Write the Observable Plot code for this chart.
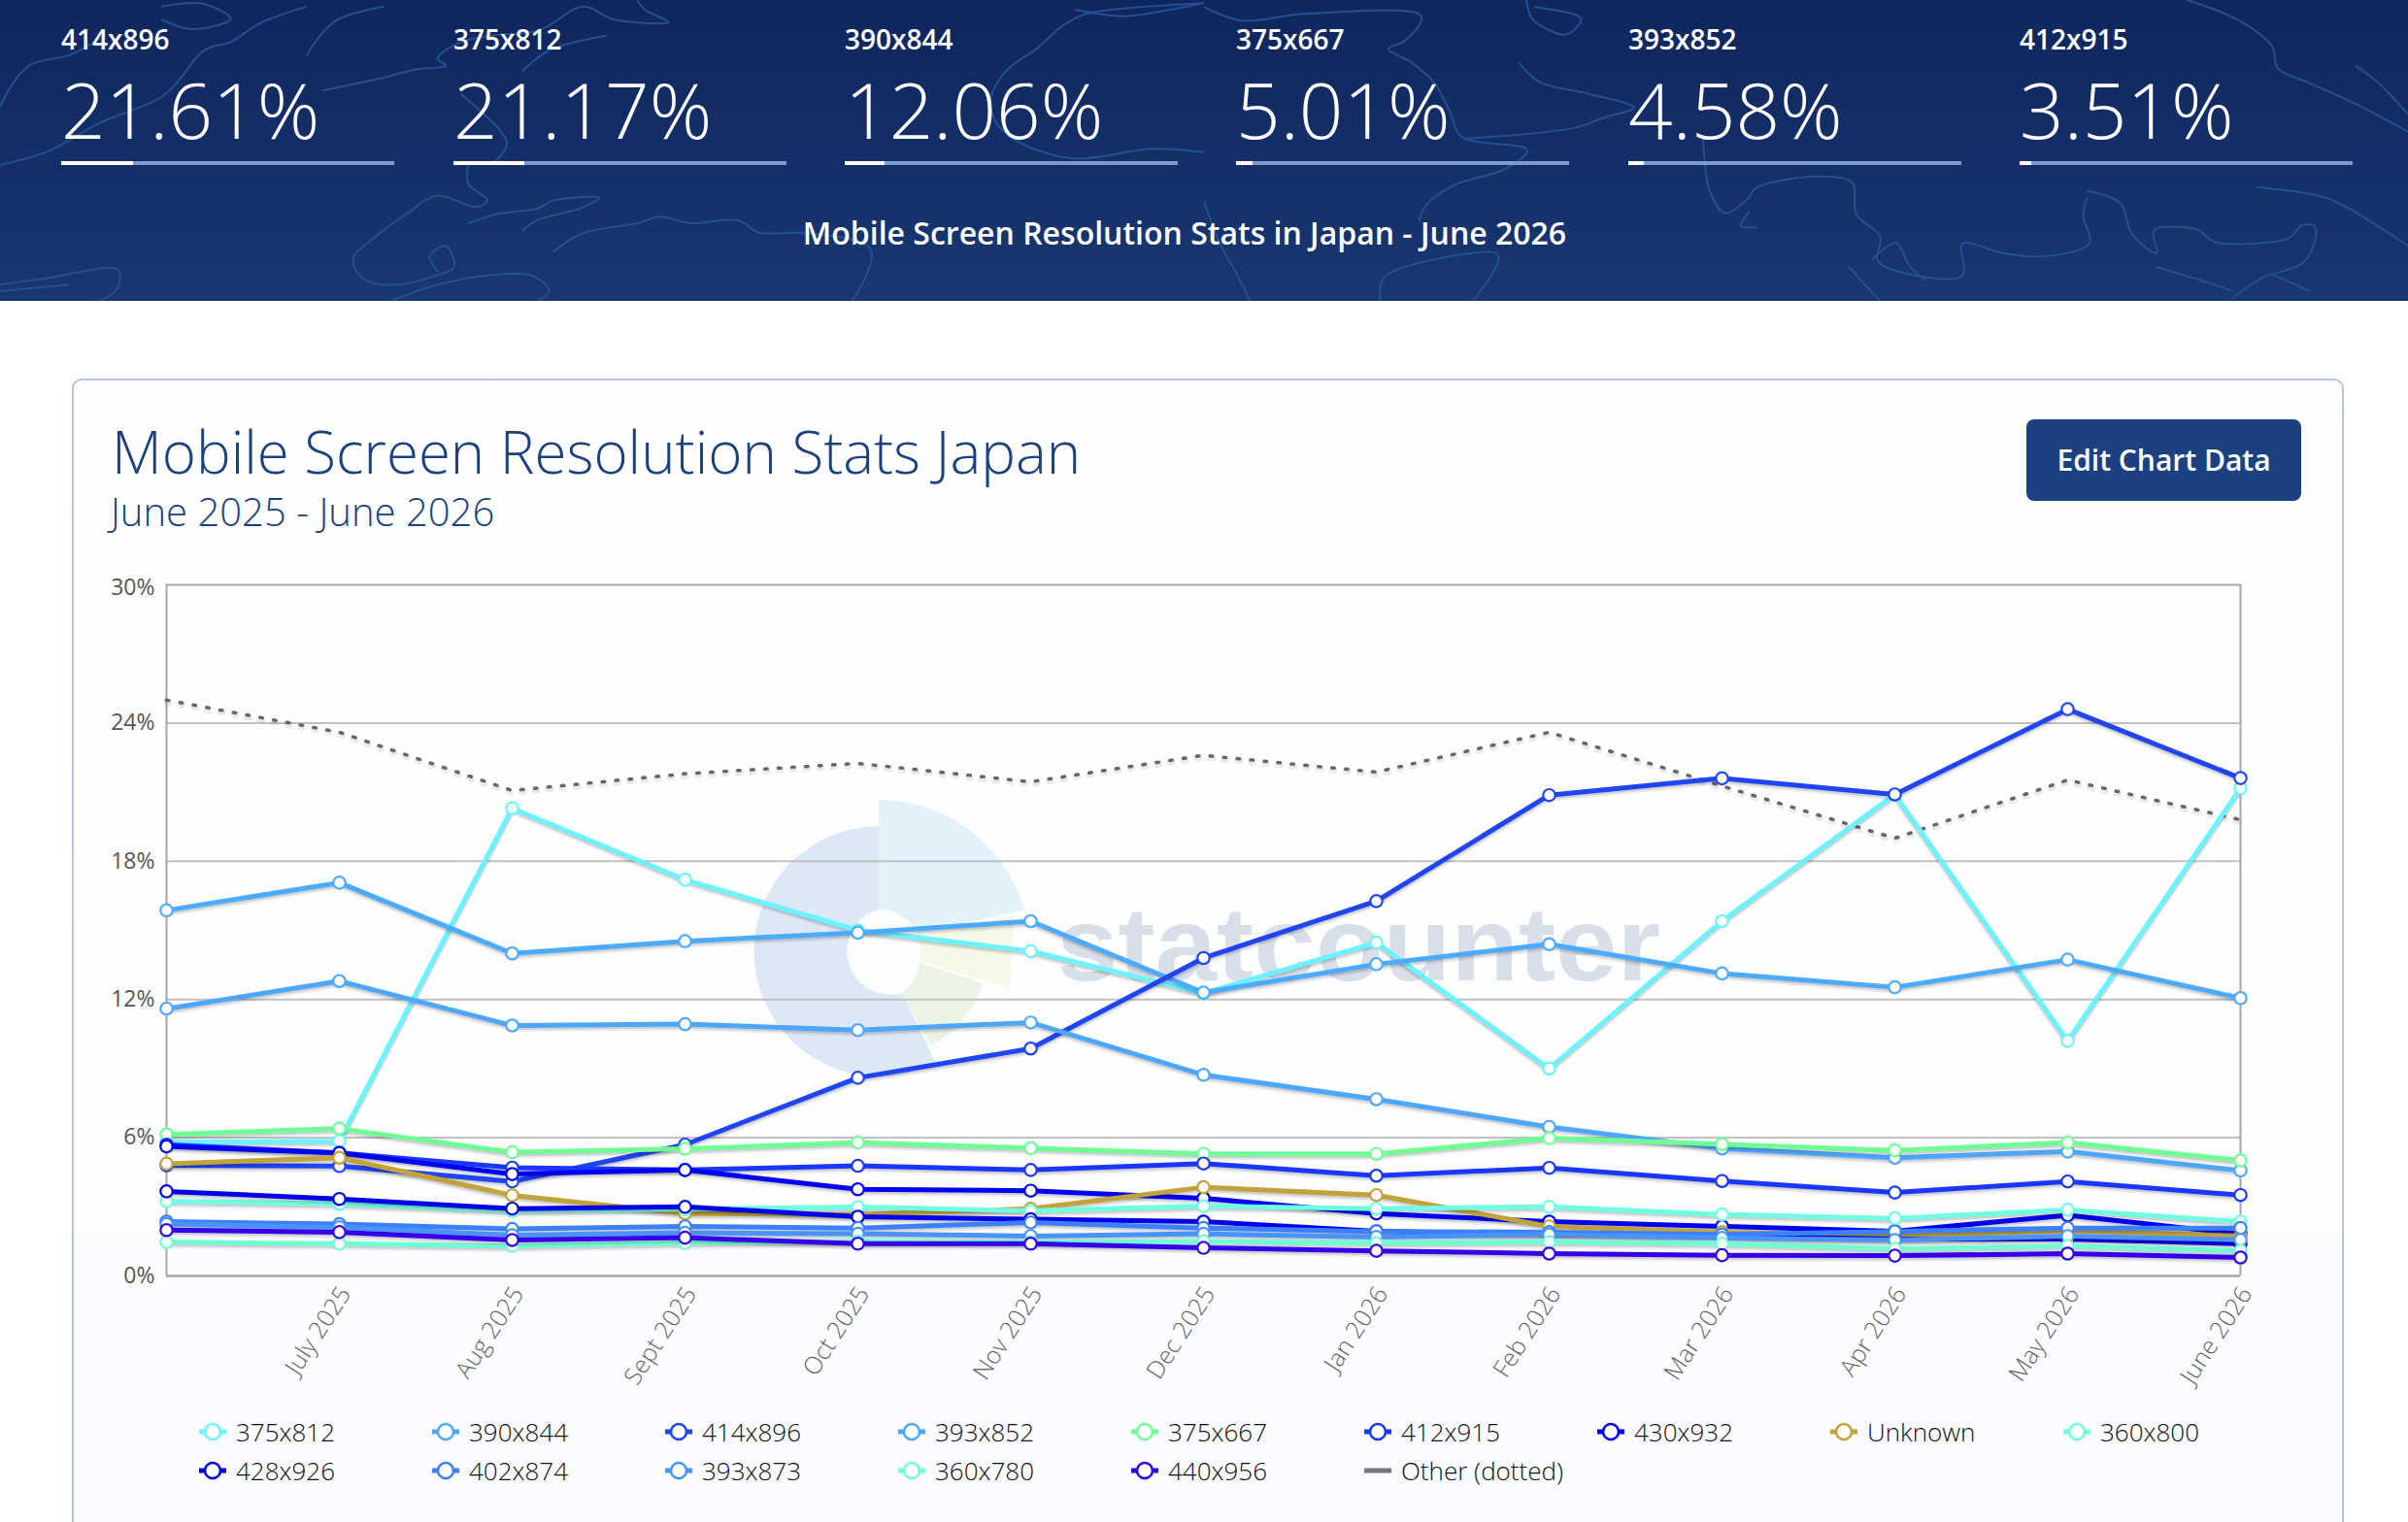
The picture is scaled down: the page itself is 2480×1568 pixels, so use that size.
<!DOCTYPE html>
<html><head><meta charset="utf-8">
<script src="https://cdn.jsdelivr.net/npm/d3@7"></script>
<script src="https://cdn.jsdelivr.net/npm/@observablehq/plot@0.6"></script>
<style>
html,body{margin:0;padding:0;background:#fff;font-family:"Open Sans",sans-serif;}
#page{position:relative;width:2480px;height:1568px;overflow:hidden;}
#hdr{position:absolute;left:0;top:0;width:2480px;height:310px;background:linear-gradient(#0f265e,#193771);overflow:hidden;}
#hdr svg{position:absolute;left:0;top:0;}
.st{position:absolute;width:343px;color:#fff;}
.st .n{position:absolute;left:0;top:26px;font-size:28px;line-height:28px;font-weight:600;white-space:nowrap;}
.st .p{position:absolute;left:0;top:72px;font-size:80px;font-weight:300;line-height:80px;white-space:nowrap;}
.st .b{position:absolute;left:0;top:166px;width:100%;height:4px;background:#7a9ad0;}
.st .w{position:absolute;left:0;top:166px;height:4px;background:#fff;}
#ht{position:absolute;left:0;width:2440px;top:218px;text-align:center;color:#fff;font-size:32px;font-weight:600;}
#card{position:absolute;left:74px;top:390px;width:2336px;height:1300px;border:2px solid #b3c6de;border-radius:10px;background:linear-gradient(#fff,#fafcff);box-sizing:content-box;}
#t1{position:absolute;left:115px;top:435px;font-size:60px;line-height:60px;font-weight:300;color:#1c4180;white-space:nowrap;}
#t2{position:absolute;left:114px;top:507px;font-size:40px;line-height:40px;font-weight:300;color:#1c4180;white-space:nowrap;}
#btn{position:absolute;left:2087px;top:432px;width:283px;height:84px;background:#1c4180;border-radius:8px;color:#fff;font-size:30px;font-weight:600;line-height:84px;text-align:center;}
#wm{position:absolute;left:0;top:0;}
#chart{position:absolute;left:0;top:559px;}
.lg{position:absolute;display:flex;align-items:center;font-size:26px;font-weight:300;color:#111;white-space:nowrap;}
.lg svg{margin-right:10px;}
</style></head><body>
<div id="page">
<div id="hdr">
<svg id="map" width="2480" height="310" fill="none" stroke="#25508f" stroke-width="2" stroke-linejoin="round">
<g transform="scale(0.7908,0.3333)">
<path vector-effect="non-scaling-stroke" d="M0,510L60,470L130,380L210,300L270,150L300,130L340,70L400,20M420,280L500,240L540,215L580,205L570,180L600,130L640,110L700,95L760,20L800,60L870,70L840,30L830,0M680,220L720,150L790,110M640,510L660,450L650,400L600,290M610,510L610,570L635,620L620,640L570,605L530,660L490,730L460,800L480,870L520,880L570,850L590,830L580,760L560,790L570,840M510,930L570,880L640,850L690,850L715,900L700,930M720,780L760,720L830,690L860,670L900,690L960,680L990,720L1050,720L1130,760L1110,930M610,690L650,660L700,645L720,620L780,610L760,640L700,680L680,715M0,880L60,860L150,830L150,900L130,930M0,900L90,880M1568,10L1420,40L1390,70L1350,150L1310,220L1290,330L1320,430L1400,490L1500,460L1568,470M1400,30L1460,50L1500,40L1568,10M210,20L260,10L300,60L250,90L210,60M0,330L40,200L90,170L130,120M400,170L440,60L500,20"/>
</g>
<g transform="translate(1240,0) scale(0.7908,0.3571)">
<path vector-effect="non-scaling-stroke" d="M0,20L50,60L130,40L280,40L260,120L240,140L270,180L300,240L320,320L340,400L420,430L390,490L330,530L290,590L280,640M420,0L430,60L470,100L490,50L430,20M410,180L440,240L500,270L560,310L520,340L480,370L340,400M0,580L20,700L40,780L60,868M650,400L660,560L680,615L710,570L720,540L790,510L840,520L850,620L880,680L880,760L940,800L985,800L990,700L1040,730L1090,740L1150,710L1145,620L1150,570M1150,550L1190,580L1210,680L1240,730L1240,660L1290,660L1320,700L1410,690L1430,650L1445,650L1430,760L1380,800L1340,860M1370,540L1460,570L1520,640L1568,710M1280,0L1340,50L1390,130L1400,200L1440,240L1500,300L1568,380M1500,190L1530,240L1568,330M840,770L880,868M870,750L900,700L920,770L940,810M1240,770L1300,810L1340,840M1390,790L1440,840M230,868L240,790L380,730L350,868M710,610L700,655L720,655"/>
</g>
</svg>
<div id="ht">Mobile Screen Resolution Stats in Japan - June 2026</div>
</div>
<div id="card"></div>
<div id="t1">Mobile Screen Resolution Stats Japan</div>
<div id="t2">June 2025 - June 2026</div>
<div id="btn">Edit Chart Data</div>
<svg id="wm" width="2480" height="1568">
<path fill="#dde8f7" d="M905,851A129,129 0 1 0 964,1095L929,1023A43,43 0 1 1 905,937Z"/>
<path fill="#e3f1fb" d="M905,824A156,156 0 0 1 1055,937L945,962A43,43 0 0 0 905,937Z"/>
<path fill="#f6f9e6" d="M1044,943L945,963A43,43 0 0 1 947,990L1040,1018Z"/>
<path fill="#eaf3e4" d="M947,992L1012,1013Q995,1060 958,1077L929,1023A43,43 0 0 0 947,992Z"/>
<text x="1088" y="1010" font-family="Liberation Sans" font-weight="700" font-size="108" textLength="622" lengthAdjust="spacingAndGlyphs" fill="#d9dfe9">statcounter</text>
</svg>
<div id="chart"></div>
</div>
<script>
const months = ["June 2025","July 2025","Aug 2025","Sept 2025","Oct 2025","Nov 2025","Dec 2025","Jan 2026","Feb 2026","Mar 2026","Apr 2026","May 2026","June 2026"];
const names = ["375x812","390x844","414x896","393x852","375x667","412x915","430x932","Unknown","360x800","428x926","402x874","393x873","360x780","440x956"];
const colors = ["#6df2ff","#4dabff","#1f45f5","#4ea7ff","#70ff94","#1a36ff","#0000f0","#c2a23a","#70ffe0","#0000e6","#3a80ff","#4a93ff","#70ffd2","#3300e8"];
const v375x812 = [5.8,5.86,20.3,17.2,15.0,14.1,12.27,14.47,9.0,15.4,20.9,10.2,21.17];
const v390x844 = [15.87,17.07,14.0,14.53,14.9,15.4,12.3,13.53,14.4,13.13,12.53,13.73,12.06];
const v414x896 = [4.8,4.77,4.1,5.7,8.6,9.87,13.8,16.27,20.87,21.6,20.9,24.6,21.61];
const v393x852 = [11.6,12.8,10.87,10.93,10.67,11.0,8.73,7.67,6.47,5.53,5.13,5.4,4.58];
const v375x667 = [6.14,6.4,5.37,5.52,5.79,5.55,5.3,5.3,5.98,5.72,5.45,5.79,5.01];
const v412x915 = [5.7,5.34,4.7,4.6,4.78,4.6,4.88,4.35,4.69,4.12,3.62,4.1,3.51];
const v430x932 = [5.62,5.34,4.42,4.6,3.76,3.7,3.37,2.71,2.36,2.15,1.94,2.63,1.82];
const vUnknown = [4.87,5.13,3.5,2.71,2.67,2.92,3.85,3.51,2.15,1.9,1.73,1.97,1.73];
const v360x800 = [3.24,3.13,2.82,2.9,2.99,2.82,3.03,2.92,3.0,2.67,2.5,2.87,2.36];
const v428x926 = [3.67,3.34,2.92,3.0,2.57,2.46,2.36,1.94,1.8,1.73,1.6,1.6,1.4];
const v402x874 = [2.36,2.25,2.04,2.15,2.08,2.32,2.08,1.93,1.9,1.8,1.93,2.08,2.08];
const v393x873 = [2.25,2.11,1.77,1.87,1.83,1.73,1.83,1.69,1.8,1.65,1.56,1.73,1.57];
const v360x780 = [1.47,1.4,1.3,1.43,1.5,1.47,1.5,1.43,1.47,1.4,1.18,1.3,1.09];
const v440x956 = [1.99,1.9,1.56,1.66,1.4,1.4,1.22,1.09,0.97,0.9,0.88,0.97,0.8];
const vOther = [25.0,23.6,21.07,21.8,22.25,21.45,22.6,21.87,23.6,21.27,19.0,21.53,19.8];
const headNames = ["414x896","375x812","390x844","375x667","393x852","412x915"];
const headVals = [21.61,21.17,12.06,5.01,4.58,3.51];
const headX = [63,467,870,1273,1677,2080];
const yTicks = [0,6,12,18,24];
const series = [v375x812,v390x844,v414x896,v393x852,v375x667,v412x915,v430x932,vUnknown,v360x800,v428x926,v402x874,v393x873,v360x780,v440x956];

// soften the traced coastline polylines of the decorative header map
document.querySelectorAll("#map path").forEach(p=>{
  const line=d3.line().curve(d3.curveCatmullRom.alpha(.5));
  const parts=p.getAttribute("d").split("M").filter(Boolean).map(s=>s.split("L").map(q=>q.split(",").map(Number)));
  p.setAttribute("d",parts.map(a=>line(a)).join(""));
});

const hdr = document.getElementById("hdr");
headNames.forEach((n,i)=>{
  const d=document.createElement("div");d.className="st";d.style.left=headX[i]+"px";d.style.top="0";
  d.innerHTML=`<div class="n">${n}</div><div class="p">${headVals[i].toFixed(2)}%</div><div class="b"></div><div class="w" style="width:${headVals[i]/100*343}px"></div>`;
  hdr.appendChild(d);
});

const rows = v => v.map((y,i)=>({x:months[i],y}));
const font = '"Open Sans",sans-serif';
const marks = [
  Plot.gridY([6,12,18,24],{stroke:"#c0c0c0",strokeOpacity:1,strokeWidth:2}),
  Plot.ruleY([30],{stroke:"#a6a6a6",strokeWidth:2}),
  Plot.ruleY([0],{stroke:"#a6a6a6",strokeWidth:2.5}),
  Plot.ruleX([months[0],months[12]],{stroke:"#a6a6a6",strokeWidth:2}),
  Plot.axisY({ticks:yTicks,tickSize:0,tickPadding:12,label:null,tickFormat:d=>d+"%",fill:"#555",fontSize:23}),
  Plot.axisY({ticks:[30],tickSize:0,tickPadding:12,label:null,tickFormat:d=>d+"%",fill:"#555",fontSize:23,dy:3}),
  Plot.axisX({ticks:months.slice(1),tickSize:0,tickRotate:-57,tickPadding:14,dx:6,label:null,fill:"#666",fontSize:25,fontWeight:300}),
  // Other (dotted)
  Plot.line(rows(vOther),{x:"x",y:"y",stroke:"#000",strokeOpacity:.08,strokeWidth:6,dy:2.5,strokeDasharray:"3,11"}),
  Plot.line(rows(vOther),{x:"x",y:"y",stroke:"#666",strokeWidth:3.5,strokeDasharray:"2.5,11.5"}),
];
series.forEach((v,i)=>{
  const r=rows(v), c=colors[i];
  marks.push(
    Plot.line(r,{x:"x",y:"y",stroke:"#000",strokeOpacity:.07,strokeWidth:7,dy:3}),
    Plot.line(r,{x:"x",y:"y",stroke:"#000",strokeOpacity:.12,strokeWidth:5,dy:2}),
    Plot.line(r,{x:"x",y:"y",stroke:c,strokeWidth:5}),
    Plot.dot(r,{x:"x",y:"y",r:6.2,fill:"#fff",stroke:c,strokeWidth:2.2})
  );
});
const plot = Plot.plot({
  width:2480,height:900,marginLeft:171,marginRight:173,marginTop:43,marginBottom:145,
  style:{background:"transparent",fontFamily:font,overflow:"visible"},
  x:{type:"point",domain:months,padding:0,axis:null},
  y:{domain:[0,30],axis:null},
  marks
});
document.getElementById("chart").appendChild(plot);

// legend
const legendNames = names.concat(["Other (dotted)"]);
const legendColors = colors.concat(["#777"]);
const page=document.getElementById("page");
legendNames.forEach((n,i)=>{
  const col=i%9,row=Math.floor(i/9);
  const d=document.createElement("div");d.className="lg";
  d.style.left=(205+240*col)+"px";d.style.top=(1455+40*row)+"px";d.style.height="40px";
  const c=legendColors[i];
  const mark = n.startsWith("Other") ? "" : `<circle cx="14" cy="20" r="8" fill="#fff" stroke="${c}" stroke-width="2.5"/>`;
  d.innerHTML=`<svg width="28" height="40"><line x1="0" x2="28" y1="20" y2="20" stroke="${c}" stroke-width="5"/>${mark}</svg><span>${n}</span>`;
  page.appendChild(d);
});
</script>
</body></html>
